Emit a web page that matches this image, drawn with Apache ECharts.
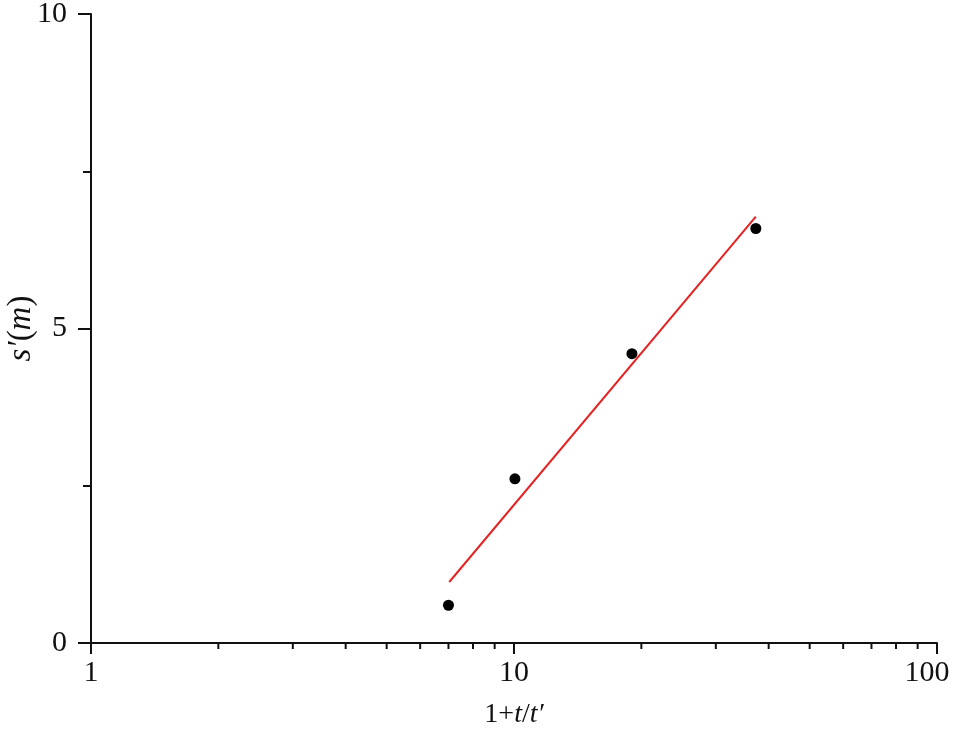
<!DOCTYPE html>
<html>
<head>
<meta charset="utf-8">
<script src="https://cdn.jsdelivr.net/npm/echarts@6/dist/echarts.min.js"></script>
<style>
  html, body { margin: 0; padding: 0; background: #fff; }
  #chart { width: 954px; height: 738px; }
</style>
</head>
<body>
<div id="chart"></div>
<script>
// measured points
const pointX = [7.0, 10.05, 19.0, 37.3];
const pointY = [0.6, 2.61, 4.6, 6.59];
// fitted line ends
const fitX = [7.03, 37.3];
const fitY = [0.97, 6.78];
// log minor ticks on x
const minorX = [2, 3, 4, 5, 6, 7, 8, 9, 20, 30, 40, 50, 60, 70, 80, 90];

const FONT = 'Liberation Serif';
const INK = '#111';

const myChart = echarts.init(document.getElementById('chart'));

const option = {
    backgroundColor: '#fff',
    animation: false,
    grid: { left: 91, right: 17, top: 14, bottom: 95, containLabel: false, outerBoundsMode: 'none' },
    xAxis: {
        type: 'log',
        logBase: 10,
        min: 1,
        max: 100,
        name: '1+{i|t}/{i|t′}',
        nameLocation: 'middle',
        nameGap: 58,
        nameMoveOverlap: false,
        nameTextStyle: {
            fontFamily: FONT, fontSize: 28, color: INK,
            rich: { i: { fontFamily: FONT, fontSize: 28, fontStyle: 'italic', color: INK } }
        },
        axisLine: { lineStyle: { color: INK, width: 2 } },
        axisTick: { show: true, length: 11, lineStyle: { color: INK, width: 2 } },
        splitLine: { show: false },
        axisLabel: {
            fontFamily: FONT, fontSize: 30, color: INK, margin: 15,
            formatter: function (v) {
                return v === 100 ? '{r|100}' : String(v);
            },
            rich: { r: { fontFamily: FONT, fontSize: 30, color: INK, padding: [0, 20, 0, 0] } }
        }
    },
    yAxis: {
        type: 'value',
        min: 0,
        max: 10,
        interval: 5,
        name: '{i|s′}({i|m})',
        nameLocation: 'middle',
        nameGap: 53,
        nameMoveOverlap: false,
        nameTextStyle: {
            fontFamily: FONT, fontSize: 33, color: INK,
            rich: { i: { fontFamily: FONT, fontSize: 33, fontStyle: 'italic', color: INK } }
        },
        axisLine: { show: true, lineStyle: { color: INK, width: 2 } },
        axisTick: { show: true, length: 13, lineStyle: { color: INK, width: 2 } },
        minorTick: { show: true, splitNumber: 2, length: 8, lineStyle: { color: INK, width: 2 } },
        splitLine: { show: false },
        axisLabel: { fontFamily: FONT, fontSize: 30, color: INK, margin: 24 }
    },
    series: [
        {
            type: 'custom',
            silent: true,
            clip: false,
            data: minorX.map(v => [v, 0]),
            renderItem: function (params, api) {
                const p = api.coord([api.value(0), 0]);
                return {
                    type: 'line',
                    shape: { x1: p[0], y1: p[1], x2: p[0], y2: p[1] + 6 },
                    style: { stroke: INK, lineWidth: 2 }
                };
            }
        },
        {
            type: 'line',
            data: fitX.map((x, i) => [x, fitY[i]]),
            symbol: 'none',
            lineStyle: { color: '#e52222', width: 2 },
            z: 3
        },
        {
            type: 'scatter',
            data: pointX.map((x, i) => [x, pointY[i]]),
            symbol: 'circle',
            symbolSize: 11,
            itemStyle: { color: '#000', opacity: 1 },
            z: 4
        }
    ]
};

option && myChart.setOption(option);
</script>
</body>
</html>
